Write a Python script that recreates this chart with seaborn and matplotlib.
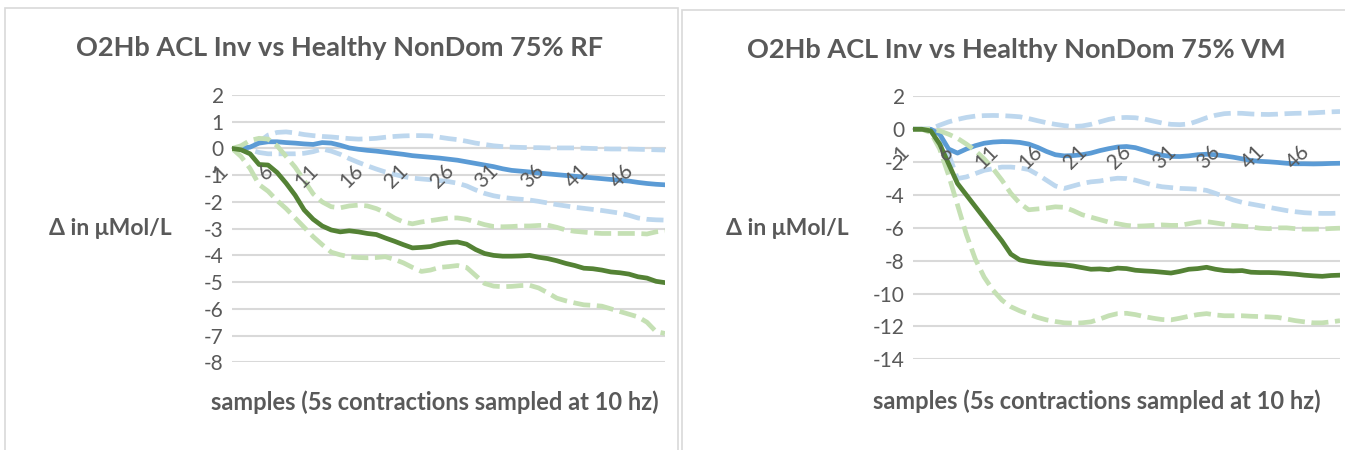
import numpy as np
import pandas as pd
import matplotlib
matplotlib.use("Agg")
import matplotlib.pyplot as plt
import seaborn as sns
from matplotlib.patches import Rectangle

sns.set_style("white")
plt.rcParams['font.family'] = ['Lato', 'DejaVu Sans']

# samples 1..49 on a category axis, labels every 5th
samples = list(range(1, 50))
tick_labels = [str(s) for s in samples[::5]]

# --- RF panel (left) ---
rf_acl_mean = [0, 0, 0.05, 0.2, 0.25, 0.25, 0.22, 0.2, 0.17, 0.15, 0.22, 0.2, 0.12, 0.02, -0.03,
               -0.07, -0.1, -0.14, -0.18, -0.22, -0.27, -0.3, -0.33, -0.36, -0.4, -0.44, -0.5,
               -0.56, -0.62, -0.68, -0.76, -0.82, -0.85, -0.88, -0.92, -0.95, -0.98, -1.01,
               -1.04, -1.07, -1.1, -1.13, -1.16, -1.19, -1.22, -1.27, -1.31, -1.34, -1.36]
rf_acl_upper = [0, 0, 0.05, 0.25, 0.5, 0.6, 0.62, 0.58, 0.52, 0.48, 0.45, 0.43, 0.4, 0.37, 0.35,
                0.36, 0.38, 0.42, 0.45, 0.47, 0.48, 0.48, 0.47, 0.42, 0.37, 0.33, 0.27, 0.2,
                0.15, 0.1, 0.07, 0.05, 0.04, 0.03, 0.03, 0.02, 0.02, 0.02, 0.02, 0.01, 0.0,
                -0.01, -0.02, -0.02, -0.02, -0.03, -0.04, -0.05, -0.06]
rf_acl_lower = [0, 0, -0.05, -0.15, -0.2, -0.2, -0.2, -0.2, -0.18, -0.12, -0.02, -0.1, -0.22,
                -0.38, -0.52, -0.65, -0.77, -0.88, -0.97, -1.05, -1.11, -1.14, -1.17, -1.2,
                -1.24, -1.3, -1.4, -1.55, -1.68, -1.77, -1.83, -1.87, -1.9, -1.93, -1.98,
                -2.04, -2.1, -2.15, -2.2, -2.24, -2.28, -2.32, -2.37, -2.42, -2.5, -2.6,
                -2.65, -2.67, -2.68]
rf_hlt_mean = [0, -0.05, -0.2, -0.6, -0.62, -0.9, -1.3, -1.75, -2.3, -2.65, -2.9, -3.05, -3.12,
               -3.08, -3.12, -3.18, -3.22, -3.35, -3.47, -3.6, -3.72, -3.7, -3.67, -3.58,
               -3.52, -3.5, -3.58, -3.78, -3.93, -4.0, -4.03, -4.03, -4.02, -4.0, -4.07,
               -4.12, -4.2, -4.3, -4.38, -4.48, -4.5, -4.55, -4.62, -4.65, -4.7, -4.8, -4.85,
               -4.97, -5.02]
rf_hlt_upper = [0, 0.1, 0.3, 0.38, 0.35, 0.1, -0.3, -0.7, -1.2, -1.7, -2.0, -2.18, -2.22, -2.15,
                -2.12, -2.15, -2.25, -2.4, -2.6, -2.75, -2.82, -2.75, -2.7, -2.65, -2.6, -2.6,
                -2.65, -2.75, -2.85, -2.92, -2.93, -2.92, -2.9, -2.9, -2.88, -2.87, -2.95,
                -3.05, -3.1, -3.13, -3.16, -3.18, -3.18, -3.18, -3.18, -3.18, -3.2, -3.12, -3.08]
rf_hlt_lower = [0, -0.3, -0.75, -1.35, -1.6, -1.95, -2.25, -2.6, -2.95, -3.3, -3.6, -3.88,
                -3.98, -4.05, -4.08, -4.09, -4.08, -4.05, -4.15, -4.28, -4.45, -4.6, -4.55,
                -4.45, -4.42, -4.38, -4.45, -4.75, -5.05, -5.15, -5.17, -5.16, -5.13, -5.12,
                -5.22, -5.4, -5.6, -5.7, -5.78, -5.85, -5.87, -5.9, -6.0, -6.1, -6.2, -6.3,
                -6.5, -6.85, -6.92]

# --- VM panel (right) ---
vm_acl_mean = [0, 0, 0, -0.3, -1.2, -1.45, -1.2, -1.0, -0.85, -0.78, -0.75, -0.76, -0.8, -0.9,
               -1.1, -1.35, -1.55, -1.62, -1.6, -1.55, -1.45, -1.3, -1.18, -1.08, -1.05, -1.12,
               -1.28, -1.45, -1.58, -1.65, -1.66, -1.62, -1.55, -1.52, -1.55, -1.62, -1.7,
               -1.8, -1.9, -1.95, -1.98, -2.02, -2.07, -2.1, -2.1, -2.11, -2.1, -2.08, -2.07]
vm_acl_upper = [0, 0, 0.02, 0.25, 0.45, 0.6, 0.72, 0.8, 0.83, 0.84, 0.83, 0.8, 0.76, 0.65, 0.52,
                0.4, 0.3, 0.22, 0.17, 0.2, 0.3, 0.45, 0.6, 0.7, 0.72, 0.7, 0.62, 0.5, 0.38, 0.3,
                0.28, 0.32, 0.5, 0.7, 0.85, 0.95, 0.98, 0.97, 0.93, 0.91, 0.9, 0.92, 0.95,
                0.97, 0.98, 1.0, 1.03, 1.06, 1.08]
vm_acl_lower = [0, 0, 0, -0.3, -1.5, -3.0, -2.9, -2.7, -2.5, -2.4, -2.3, -2.3, -2.35, -2.45,
                -2.75, -3.1, -3.45, -3.6, -3.45, -3.3, -3.2, -3.15, -3.05, -2.98, -3.0, -3.1,
                -3.25, -3.4, -3.5, -3.55, -3.6, -3.62, -3.65, -3.72, -3.9, -4.1, -4.3, -4.45,
                -4.55, -4.65, -4.75, -4.85, -4.95, -5.02, -5.08, -5.11, -5.12, -5.12, -5.1]
vm_hlt_mean = [0, 0, -0.1, -0.9, -2.1, -3.3, -4.0, -4.7, -5.4, -6.1, -6.8, -7.6, -7.95, -8.05,
               -8.12, -8.18, -8.22, -8.25, -8.32, -8.42, -8.52, -8.5, -8.55, -8.45, -8.48,
               -8.58, -8.62, -8.65, -8.7, -8.75, -8.65, -8.52, -8.48, -8.4, -8.52, -8.6,
               -8.62, -8.6, -8.7, -8.72, -8.72, -8.74, -8.78, -8.82, -8.88, -8.92, -8.95,
               -8.9, -8.88]
vm_hlt_upper = [0, 0, 0, -0.1, -0.3, -0.55, -0.9, -1.3, -1.8, -2.4, -3.1, -3.9, -4.5, -4.9,
                -4.85, -4.8, -4.72, -4.75, -4.95, -5.2, -5.35, -5.5, -5.65, -5.75, -5.85, -5.9,
                -5.88, -5.85, -5.82, -5.85, -5.85, -5.75, -5.65, -5.62, -5.7, -5.78, -5.85,
                -5.9, -5.95, -6.02, -6.05, -6.0, -6.0, -6.05, -6.08, -6.08, -6.07, -6.04, -6.02]
vm_hlt_lower = [0, 0, -0.2, -1.2, -2.8, -4.6, -6.4, -7.9, -9.0, -9.8, -10.4, -10.8, -11.05,
                -11.25, -11.45, -11.6, -11.7, -11.78, -11.8, -11.78, -11.72, -11.55, -11.35,
                -11.22, -11.2, -11.28, -11.4, -11.5, -11.58, -11.6, -11.5, -11.38, -11.28,
                -11.22, -11.3, -11.35, -11.35, -11.35, -11.38, -11.4, -11.42, -11.45, -11.55,
                -11.65, -11.72, -11.78, -11.78, -11.72, -11.65]

titles = ["O2Hb ACL Inv vs Healthy NonDom 75% RF", "O2Hb ACL Inv vs Healthy NonDom 75% VM"]
ylabel = "Δ in μMol/L"
xlabel = "samples (5s contractions sampled at 10 hz)"

TXT = "#595959"
GRID = "#d9d9d9"
dash = (0, (3.6, 1.4))

fig = plt.figure(figsize=(13.45, 4.5), dpi=100)

# chart frames
fig.patches.append(Rectangle((5 / 1345, -0.1), 673 / 1345, 1.1 - 8 / 450, transform=fig.transFigure,
                             fill=False, edgecolor=GRID, linewidth=1.2))
fig.patches.append(Rectangle((682 / 1345, -0.1), 0.6, 1.1 - 10 / 450, transform=fig.transFigure,
                             fill=False, edgecolor=GRID, linewidth=1.2))

ax1 = fig.add_axes([232 / 1345, 1 - 362.3 / 450, 433 / 1345, 267.3 / 450])
ax2 = fig.add_axes([913 / 1345, 1 - 359.3 / 450, 427 / 1345, 262.9 / 450])

panels = [
    (ax1, [rf_acl_upper, rf_acl_lower, rf_acl_mean, rf_hlt_upper, rf_hlt_lower, rf_hlt_mean],
     (-8, 2), np.arange(-8, 3, 1)),
    (ax2, [vm_acl_upper, vm_acl_lower, vm_acl_mean, vm_hlt_upper, vm_hlt_lower, vm_hlt_mean],
     (-14, 2), np.arange(-14, 3, 2)),
]
colors = ["#bdd7ee", "#bdd7ee", "#5b9bd5", "#c5e0b4", "#c5e0b4", "#548235"]
styles = [dash, dash, "-", dash, dash, "-"]

for ax, series, ylim, yticks in panels:
    for vals, c, ls in zip(series, colors, styles):
        sns.lineplot(x=samples, y=vals, ax=ax, color=c, linewidth=3.4, linestyle=ls,
                     estimator=None, sort=False)
    # horizontal axis crosses at 0 (set before tick labels, it resets ticks)
    for s in ["top", "right", "left"]:
        ax.spines[s].set_visible(False)
    ax.spines["bottom"].set_position(("data", 0))
    ax.spines["bottom"].set_color(GRID)
    ax.spines["bottom"].set_linewidth(1.5)
    ax.spines["bottom"].set_zorder(0.5)
    ax.set_xlim(1, 49)
    ax.set_ylim(*ylim)
    ax.set_yticks(yticks)
    ax.set_yticklabels([str(int(t)) for t in yticks])
    ax.set_xticks(samples[::5])
    ax.set_xticklabels(tick_labels, rotation=45, ha="right")
    # gridlines under the data, tick labels above it (as in Excel)
    ax.grid(False)
    for t in yticks:
        ax.axhline(t, color=GRID, linewidth=1.5, zorder=0.5)
    ax.set_axisbelow(False)
    ax.tick_params(axis="x", length=0, pad=9, labelsize=15, labelcolor=TXT)
    ax.tick_params(axis="y", length=0, pad=6, labelsize=15, labelcolor=TXT)
    ax.set_xlabel("")
    ax.set_ylabel("")
    ax.patch.set_alpha(0)

# titles and axis titles
fig.text(340 / 1345, 1 - 48 / 450, titles[0], ha="center", va="center", fontsize=19.5,
         fontweight="bold", color=TXT)
fig.text(1016 / 1345, 1 - 50 / 450, titles[1], ha="center", va="center", fontsize=19.5,
         fontweight="bold", color=TXT)
fig.text(110 / 1345, 1 - 229 / 450, ylabel, ha="center", va="center", fontsize=16.5,
         fontweight="bold", color=TXT)
fig.text(787 / 1345, 1 - 228 / 450, ylabel, ha="center", va="center", fontsize=16.5,
         fontweight="bold", color=TXT)
fig.text(435 / 1345, 1 - 402 / 450, xlabel, ha="center", va="center", fontsize=17,
         fontweight="bold", color=TXT)
fig.text(1097 / 1345, 1 - 401 / 450, xlabel, ha="center", va="center", fontsize=17,
         fontweight="bold", color=TXT)

fig.savefig("out.png", dpi=100)
